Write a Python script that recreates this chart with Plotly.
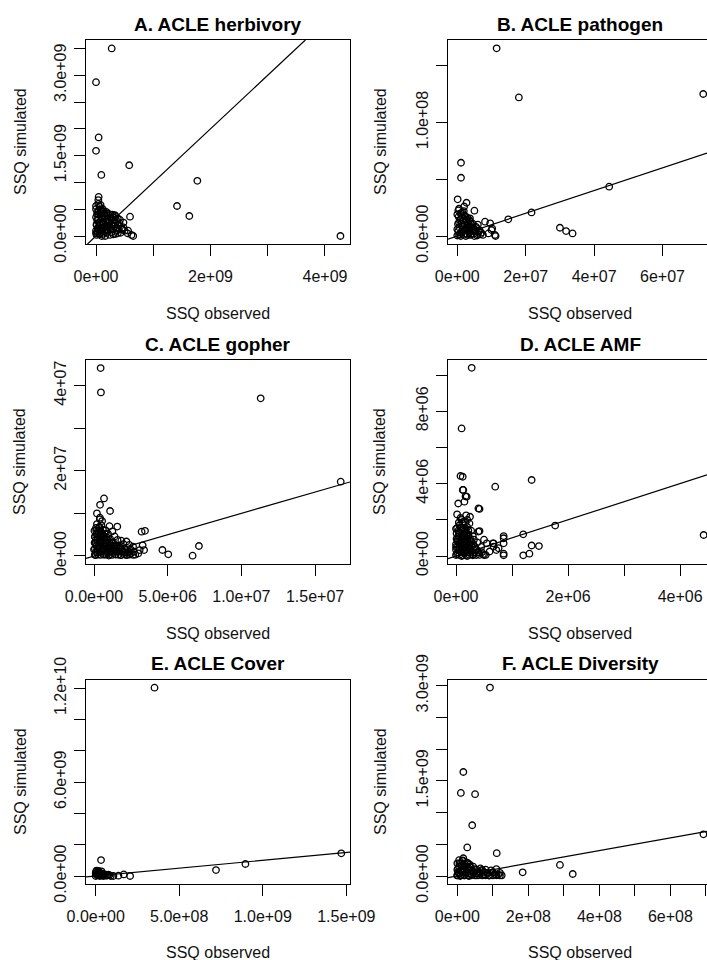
import plotly.graph_objects as go

# ---------------- data ----------------
A_x = [0.274e9, 0.0, 0.046e9, 0.0, 0.093e9, 0.58e9, 1.77e9, 1.415e9, 1.63e9, 4.27e9, 0.594e9, 0.046e9, 0.04e9, 0.65e9,
       0.01e9, 0.02e9, 0.0, 0.03e9, 0.01e9, 0.05e9, 0.02e9, 0.0, 0.04e9, 0.02e9, 0.08e9, 0.12e9, 0.06e9, 0.1e9, 0.15e9,
       0.2e9, 0.25e9, 0.3e9, 0.33e9, 0.35e9, 0.28e9, 0.22e9, 0.18e9, 0.12e9, 0.08e9, 0.14e9, 0.2e9, 0.26e9, 0.32e9, 0.4e9,
       0.45e9, 0.5e9, 0.55e9, 0.62e9, 0.38e9, 0.3e9, 0.24e9, 0.16e9, 0.1e9, 0.06e9, 0.04e9, 0.0, 0.1e9, 0.16e9, 0.42e9,
       0.36e9, 0.48e9, 0.07e9, 0.13e9, 0.03e9, 0.07e9, 0.09e9, 0.15e9, 0.26e9, 0.34e9, 0.33e9, 0.48e9, 0.56e9,
       0.0, 0.07e9, 0.12e9, 0.19e9, 0.27e9, 0.34e9, 0.43e9, 0.03e9, 0.1e9, 0.17e9, 0.24e9, 0.3e9, 0.38e9, 0.46e9,
       0.01e9, 0.06e9, 0.13e9, 0.2e9, 0.27e9, 0.34e9, 0.41e9, 0.04e9, 0.11e9, 0.17e9, 0.23e9, 0.31e9, 0.38e9,
       0.02e9, 0.09e9, 0.15e9, 0.21e9, 0.29e9, 0.05e9, 0.12e9, 0.18e9, 0.0, 0.08e9]
A_y = [3.50e9, 2.87e9, 1.84e9, 1.59e9, 1.14e9, 1.32e9, 1.03e9, 0.56e9, 0.373e9, 0.0, 0.36e9, 0.73e9, 0.67e9, 0.0,
       0.02e9, 0.05e9, 0.1e9, 0.15e9, 0.2e9, 0.25e9, 0.3e9, 0.35e9, 0.4e9, 0.45e9, 0.48e9, 0.5e9, 0.55e9, 0.45e9, 0.42e9,
       0.38e9, 0.4e9, 0.35e9, 0.39e9, 0.3e9, 0.25e9, 0.2e9, 0.3e9, 0.25e9, 0.1e9, 0.08e9, 0.1e9, 0.12e9, 0.18e9, 0.2e9,
       0.14e9, 0.1e9, 0.05e9, 0.02e9, 0.05e9, 0.03e9, 0.02e9, 0.0, 0.0, 0.03e9, 0.6e9, 0.5e9, 0.35e9, 0.18e9, 0.3e9,
       0.1e9, 0.25e9, 0.2e9, 0.15e9, 0.08e9, 0.43e9, 0.49e9, 0.37e9, 0.34e9, 0.37e9, 0.25e9, 0.16e9, 0.1e9,
       0.05e9, 0.06e9, 0.04e9, 0.06e9, 0.07e9, 0.04e9, 0.06e9, 0.13e9, 0.15e9, 0.13e9, 0.15e9, 0.13e9, 0.14e9, 0.12e9,
       0.22e9, 0.24e9, 0.22e9, 0.24e9, 0.22e9, 0.23e9, 0.24e9, 0.31e9, 0.32e9, 0.33e9, 0.3e9, 0.31e9, 0.33e9,
       0.4e9, 0.41e9, 0.38e9, 0.42e9, 0.4e9, 0.48e9, 0.47e9, 0.45e9, 0.56e9, 0.58e9]

B_x = [1.15e7, 1.80e7, 7.19e7, 0.108e7, 0.108e7, 0.01e7, 0.27e7, 0.50e7, 4.44e7, 2.17e7, 1.49e7, 0.81e7, 1.02e7, 1.12e7,
       0.91e7, 3.0e7, 3.18e7, 3.37e7, 0.37e7, 0.96e7, 1.0e7, 1.1e7,
       0.05e7, 0.1e7, 0.0, 0.15e7, 0.05e7, 0.1e7, 0.2e7, 0.15e7, 0.05e7, 0.25e7, 0.3e7, 0.35e7, 0.4e7, 0.5e7, 0.55e7,
       0.6e7, 0.65e7, 0.45e7, 0.3e7, 0.2e7, 0.1e7, 0.25e7, 0.4e7, 0.7e7, 0.5e7, 0.2e7, 0.3e7, 0.0, 0.12e7, 0.38e7,
       0.75e7, 0.6e7,
       0.0, 0.08e7, 0.18e7, 0.28e7, 0.38e7, 0.48e7, 0.58e7, 0.68e7, 0.03e7, 0.13e7, 0.23e7, 0.33e7, 0.43e7, 0.53e7,
       0.63e7, 0.06e7, 0.16e7, 0.26e7, 0.36e7, 0.46e7, 0.56e7, 0.02e7, 0.12e7, 0.22e7, 0.32e7, 0.42e7, 0.07e7,
       0.17e7, 0.27e7, 0.35e7, 0.04e7, 0.14e7, 0.24e7, 0.09e7, 0.19e7, 0.03e7]
B_y = [16.52e7, 12.2e7, 12.5e7, 6.45e7, 5.13e7, 3.23e7, 2.93e7, 2.23e7, 4.34e7, 2.08e7, 1.47e7, 1.26e7, 0.67e7, 0.0,
       0.23e7, 0.73e7, 0.44e7, 0.23e7, 1.56e7, 1.12e7, 0.53e7, 0.09e7,
       0.1e7, 0.3e7, 0.6e7, 0.9e7, 1.2e7, 1.5e7, 1.8e7, 2.1e7, 2.4e7, 1.3e7, 0.9e7, 0.5e7, 0.2e7, 0.4e7, 0.8e7,
       0.15e7, 0.5e7, 1.1e7, 0.1e7, 0.5e7, 0.0, 0.0, 0.7e7, 0.3e7, 0.0, 2.6e7, 1.6e7, 1.9e7, 2.0e7, 1.25e7,
       0.1e7, 1.0e7,
       0.05e7, 0.15e7, 0.1e7, 0.2e7, 0.1e7, 0.2e7, 0.05e7, 0.15e7, 0.45e7, 0.4e7, 0.5e7, 0.35e7, 0.45e7, 0.55e7,
       0.4e7, 0.75e7, 0.8e7, 0.7e7, 0.85e7, 0.75e7, 0.7e7, 1.05e7, 1.1e7, 1.0e7, 1.15e7, 1.0e7, 1.4e7,
       1.35e7, 1.45e7, 1.4e7, 1.7e7, 1.65e7, 1.75e7, 2.0e7, 2.2e7, 2.25e7]

C_x = [0.45e6, 0.47e6, 11.31e6, 16.74e6, 0.68e6, 0.41e6, 1.09e6, 0.4e6, 1.58e6, 3.23e6, 3.46e6, 4.64e6, 5.04e6, 6.69e6,
       7.12e6, 3.3e6, 3.4e6, 2.2e6, 2.65e6, 3.1e6, 2.5e6,
       0.1e6, 0.2e6, 0.0, 0.3e6, 0.1e6, 0.25e6, 0.05e6, 0.3e6, 0.15e6, 0.35e6, 0.2e6, 0.5e6, 0.6e6, 0.45e6, 0.7e6,
       0.55e6, 0.8e6, 0.65e6, 0.9e6, 0.75e6, 1.0e6, 1.1e6, 1.2e6, 1.0e6, 1.3e6, 1.1e6, 0.95e6, 1.25e6, 1.4e6, 1.5e6,
       1.6e6, 1.45e6, 1.8e6, 1.9e6, 1.75e6, 2.0e6, 1.85e6, 2.1e6, 2.3e6, 2.2e6, 2.5e6, 2.7e6, 2.8e6, 3.0e6, 2.4e6,
       1.6e6, 0.8e6, 0.4e6, 0.55e6, 1.05e6, 0.2e6,
       0.05e6, 0.27e6, 0.44e6, 0.66e6, 0.83e6, 1.07e6, 1.24e6, 1.47e6, 1.63e6, 1.86e6, 2.04e6, 2.27e6, 2.43e6, 2.66e6,
       0.14e6, 0.36e6, 0.53e6, 0.77e6, 0.94e6, 1.16e6, 1.33e6, 1.56e6, 1.74e6, 1.97e6, 2.13e6, 2.36e6,
       0.06e6, 0.24e6, 0.47e6, 0.63e6, 0.86e6, 1.04e6, 1.27e6, 1.43e6, 1.66e6, 1.84e6, 2.07e6,
       0.16e6, 0.33e6, 0.57e6, 0.74e6, 0.97e6, 1.13e6, 1.37e6, 1.53e6, 1.76e6,
       0.04e6, 0.26e6, 0.43e6, 0.67e6, 0.84e6, 1.06e6, 1.23e6,
       0.13e6, 0.37e6, 0.54e6, 0.76e6, 0.93e6, 0.07e6, 0.23e6, 0.46e6, 0.64e6, 0.87e6,
       0.17e6, 0.34e6, 0.56e6, 0.73e6, 0.03e6, 0.27e6, 0.44e6, 0.14e6, 0.36e6]
C_y = [44.1e6, 38.4e6, 37.0e6, 17.45e6, 13.5e6, 12.0e6, 10.56e6, 8.6e6, 6.9e6, 5.7e6, 5.9e6, 1.41e6, 0.39e6, 0.08e6,
       2.35e6, 2.5e6, 1.4e6, 3.4e6, 2.2e6, 1.4e6, 0.6e6,
       0.2e6, 0.8e6, 1.5e6, 2.2e6, 3.0e6, 3.8e6, 4.5e6, 5.3e6, 6.0e6, 6.8e6, 7.5e6, 7.2e6, 6.2e6, 5.0e6, 4.3e6,
       3.5e6, 2.8e6, 1.8e6, 1.0e6, 0.3e6, 0.1e6, 0.8e6, 1.7e6, 2.5e6, 3.2e6, 4.0e6, 5.2e6, 5.8e6, 4.6e6, 2.4e6,
       1.2e6, 0.4e6, 0.2e6, 1.0e6, 2.0e6, 2.8e6, 3.6e6, 1.6e6, 0.8e6, 0.2e6, 1.5e6, 1.0e6, 0.3e6, 0.6e6, 2.6e6,
       3.8e6, 6.0e6, 9.0e6, 8.2e6, 7.0e6, 10.0e6,
       0.3e6, 0.35e6, 0.25e6, 0.3e6, 0.4e6, 0.3e6, 0.25e6, 0.35e6, 0.3e6, 0.25e6, 0.4e6, 0.3e6, 0.35e6, 0.25e6,
       1.0e6, 0.95e6, 1.05e6, 1.0e6, 0.9e6, 1.05e6, 1.0e6, 0.95e6, 1.1e6, 1.0e6, 0.9e6, 1.0e6,
       1.7e6, 1.75e6, 1.65e6, 1.7e6, 1.8e6, 1.7e6, 1.65e6, 1.75e6, 1.7e6, 1.6e6, 1.75e6,
       2.4e6, 2.35e6, 2.45e6, 2.4e6, 2.3e6, 2.45e6, 2.4e6, 2.35e6, 2.5e6,
       3.1e6, 3.15e6, 3.05e6, 3.1e6, 3.2e6, 3.1e6, 3.05e6,
       3.8e6, 3.75e6, 3.85e6, 3.8e6, 3.7e6, 4.5e6, 4.55e6, 4.45e6, 4.5e6, 4.4e6,
       5.2e6, 5.25e6, 5.15e6, 5.2e6, 5.9e6, 5.85e6, 5.95e6, 6.6e6, 6.65e6]

D_x = [0.28e6, 0.10e6, 0.08e6, 0.12e6, 1.35e6, 0.70e6, 0.12e6, 0.17e6, 0.15e6, 0.04e6, 0.42e6, 0.42e6, 1.77e6, 1.20e6,
       0.85e6, 0.66e6, 0.72e6, 0.85e6, 1.35e6, 1.48e6, 1.2e6, 1.31e6, 4.42e6, 0.40e6, 0.40e6, 0.25e6, 0.19e6, 0.13e6,
       0.55e6, 0.67e6, 0.67e6, 0.76e6, 0.85e6, 0.85e6, 0.53e6, 0.85e6,
       0.02e6, 0.05e6, 0.0, 0.08e6, 0.03e6, 0.1e6, 0.05e6, 0.12e6, 0.06e6, 0.14e6, 0.08e6, 0.18e6, 0.2e6, 0.22e6,
       0.18e6, 0.25e6, 0.15e6, 0.3e6, 0.28e6, 0.32e6, 0.35e6, 0.4e6, 0.45e6, 0.38e6, 0.48e6, 0.2e6, 0.1e6, 0.16e6,
       0.24e6, 0.1e6, 0.0, 0.02e6, 0.2e6, 0.27e6, 0.12e6, 0.6e6, 0.5e6, 0.3e6,
       0.0, 0.06e6, 0.12e6, 0.18e6, 0.24e6, 0.3e6, 0.36e6, 0.42e6, 0.5e6,
       0.03e6, 0.09e6, 0.15e6, 0.21e6, 0.27e6, 0.33e6, 0.39e6, 0.46e6,
       0.0, 0.06e6, 0.12e6, 0.18e6, 0.24e6, 0.31e6, 0.37e6,
       0.03e6, 0.09e6, 0.15e6, 0.21e6, 0.27e6, 0.34e6,
       0.0, 0.06e6, 0.12e6, 0.18e6, 0.24e6, 0.31e6,
       0.03e6, 0.09e6, 0.15e6, 0.21e6, 0.27e6,
       0.01e6, 0.07e6, 0.13e6, 0.19e6, 0.25e6,
       0.04e6, 0.1e6, 0.16e6, 0.22e6, 0.01e6, 0.07e6, 0.13e6, 0.19e6,
       0.04e6, 0.1e6, 0.16e6, 0.22e6, 0.02e6, 0.08e6, 0.14e6, 0.05e6, 0.11e6, 0.17e6]
D_y = [10.4e6, 7.05e6, 4.42e6, 4.38e6, 4.2e6, 3.83e6, 3.65e6, 3.3e6, 3.0e6, 2.9e6, 2.6e6, 1.38e6, 1.68e6, 1.2e6,
       1.1e6, 0.7e6, 0.33e6, 0.04e6, 0.58e6, 0.55e6, 0.04e6, 0.13e6, 1.16e6, 2.63e6, 1.35e6, 2.17e6, 3.28e6, 3.65e6,
       0.70e6, 0.70e6, 0.52e6, 0.43e6, 0.98e6, 0.7e6, 0.06e6, 0.13e6,
       0.1e6, 0.3e6, 0.5e6, 0.7e6, 0.9e6, 1.1e6, 1.3e6, 1.5e6, 1.7e6, 1.9e6, 2.1e6, 2.25e6, 1.6e6, 1.2e6,
       0.8e6, 0.4e6, 0.2e6, 0.1e6, 0.6e6, 0.9e6, 0.35e6, 0.2e6, 0.5e6, 0.75e6, 0.1e6, 0.0, 0.0, 1.0e6,
       1.8e6, 2.0e6, 1.5e6, 2.3e6, 2.0e6, 1.4e6, 0.4e6, 0.25e6, 0.9e6, 1.1e6,
       0.05e6, 0.06e6, 0.04e6, 0.05e6, 0.06e6, 0.04e6, 0.05e6, 0.06e6, 0.05e6,
       0.2e6, 0.21e6, 0.19e6, 0.2e6, 0.22e6, 0.2e6, 0.19e6, 0.21e6,
       0.35e6, 0.36e6, 0.34e6, 0.35e6, 0.37e6, 0.35e6, 0.34e6,
       0.5e6, 0.51e6, 0.49e6, 0.5e6, 0.52e6, 0.5e6,
       0.65e6, 0.66e6, 0.64e6, 0.65e6, 0.67e6, 0.65e6,
       0.8e6, 0.81e6, 0.79e6, 0.8e6, 0.82e6,
       0.95e6, 0.96e6, 0.94e6, 0.95e6, 0.97e6,
       1.1e6, 1.12e6, 1.09e6, 1.11e6, 1.25e6, 1.26e6, 1.24e6, 1.27e6,
       1.4e6, 1.42e6, 1.39e6, 1.41e6, 1.55e6, 1.56e6, 1.54e6, 1.85e6, 1.86e6, 1.84e6]

E_x = [3.52e8, 0.32e8, 14.7e8, 8.96e8, 7.2e8, 2.06e8, 1.68e8, 1.06e8, 1.36e8,
       0.0, 0.1e8, 0.2e8, 0.05e8, 0.3e8, 0.15e8, 0.25e8, 0.4e8, 0.5e8, 0.0, 0.35e8, 0.6e8, 0.75e8, 0.9e8, 0.05e8, 0.45e8,
       0.12e8, 0.22e8, 0.08e8, 0.28e8, 0.18e8, 0.02e8, 0.38e8, 0.55e8, 0.68e8, 0.82e8]
E_y = [12.04e9, 1.02e9, 1.45e9, 0.77e9, 0.38e9, 0.0, 0.1e9, 0.0, 0.02e9,
       0.0, 0.1e9, 0.25e9, 0.35e9, 0.05e9, 0.2e9, 0.0, 0.15e9, 0.05e9, 0.18e9, 0.3e9, 0.02e9, 0.08e9, 0.0, 0.08e9, 0.0,
       0.05e9, 0.12e9, 0.22e9, 0.18e9, 0.32e9, 0.28e9, 0.06e9, 0.1e9, 0.03e9, 0.06e9]

F_x = [0.92e8, 0.17e8, 0.10e8, 0.50e8, 0.42e8, 0.28e8, 1.11e8, 0.17e8, 6.93e8, 2.89e8, 1.84e8, 3.25e8, 1.15e8, 1.0e8,
       0.8e8, 0.61e8,
       0.0, 0.05e8, 0.1e8, 0.02e8, 0.12e8, 0.06e8, 0.15e8, 0.2e8, 0.25e8, 0.3e8, 0.22e8, 0.35e8, 0.4e8, 0.45e8, 0.5e8,
       0.55e8, 0.6e8, 0.7e8, 0.75e8, 0.85e8, 0.9e8, 1.05e8, 1.2e8, 1.25e8, 0.38e8, 0.28e8, 0.08e8, 0.33e8, 0.65e8,
       0.95e8, 1.1e8, 0.18e8, 0.02e8,
       0.0, 0.1e8, 0.2e8, 0.3e8, 0.4e8, 0.5e8, 0.6e8, 0.7e8, 0.8e8, 0.9e8, 1.0e8, 1.1e8, 1.2e8,
       0.05e8, 0.15e8, 0.25e8, 0.35e8, 0.45e8, 0.55e8, 0.65e8, 0.75e8, 0.85e8, 1.0e8,
       0.0, 0.1e8, 0.2e8, 0.3e8, 0.4e8, 0.55e8, 0.7e8, 0.05e8, 0.15e8, 0.25e8, 0.35e8, 0.45e8,
       0.0, 0.1e8, 0.2e8, 0.3e8, 0.05e8, 0.15e8]
F_y = [29.7e8, 16.4e8, 13.1e8, 12.9e8, 8.0e8, 4.5e8, 3.6e8, 2.8e8, 6.57e8, 1.74e8, 0.58e8, 0.32e8, 0.2e8, 0.6e8,
       1.0e8, 0.6e8,
       0.1e8, 0.4e8, 0.8e8, 1.2e8, 1.6e8, 2.0e8, 2.4e8, 0.2e8, 0.6e8, 1.0e8, 1.4e8, 1.8e8, 0.3e8, 0.7e8, 1.1e8,
       0.1e8, 0.4e8, 0.8e8, 0.2e8, 0.5e8, 0.1e8, 0.3e8, 0.5e8, 0.1e8, 1.3e8, 2.1e8, 0.0, 0.0, 1.2e8,
       0.9e8, 1.1e8, 1.0e8, 0.6e8,
       0.1e8, 0.12e8, 0.08e8, 0.1e8, 0.12e8, 0.09e8, 0.11e8, 0.1e8, 0.12e8, 0.08e8, 0.1e8, 0.11e8, 0.09e8,
       0.5e8, 0.52e8, 0.48e8, 0.5e8, 0.53e8, 0.47e8, 0.5e8, 0.52e8, 0.49e8, 0.51e8,
       1.0e8, 1.02e8, 0.98e8, 1.03e8, 0.97e8, 1.0e8, 0.98e8, 1.5e8, 1.52e8, 1.48e8, 1.5e8, 1.47e8,
       2.0e8, 2.02e8, 1.98e8, 2.0e8, 2.5e8, 2.48e8]

titles = ["A. ACLE herbivory", "B. ACLE pathogen", "C. ACLE gopher",
          "D. ACLE AMF", "E. ACLE Cover", "F. ACLE Diversity"]

x_tickvals = [[0, 1e9, 2e9, 3e9, 4e9], [0, 2e7, 4e7, 6e7], [0, 5e6, 1e7, 1.5e7],
              [0, 1e6, 2e6, 3e6, 4e6], [0, 5e8, 1e9, 1.5e9], [0, 1e8, 2e8, 3e8, 4e8, 5e8, 6e8, 7e8]]
x_ticktext = [["0e+00", "", "2e+09", "", "4e+09"], ["0e+00", "2e+07", "4e+07", "6e+07"],
              ["0.0e+00", "5.0e+06", "1.0e+07", "1.5e+07"], ["0e+00", "", "2e+06", "", "4e+06"],
              ["0.0e+00", "5.0e+08", "1.0e+09", "1.5e+09"],
              ["0e+00", "", "2e+08", "", "4e+08", "", "6e+08", ""]]
y_tickvals = [[0, 0.5e9, 1e9, 1.5e9, 2e9, 2.5e9, 3e9, 3.5e9], [0, 5e7, 1e8, 1.5e8], [0, 1e7, 2e7, 3e7, 4e7],
              [0, 2e6, 4e6, 6e6, 8e6, 1e7], [0, 2e9, 4e9, 6e9, 8e9, 1e10, 1.2e10],
              [0, 5e8, 1e9, 1.5e9, 2e9, 2.5e9, 3e9]]
y_ticktext = [["0.0e+00", "", "", "1.5e+09", "", "", "3.0e+09", ""], ["0.0e+00", "", "1.0e+08", ""],
              ["0e+00", "", "2e+07", "", "4e+07"], ["0e+00", "", "4e+06", "", "8e+06", ""],
              ["0.0e+00", "", "", "6.0e+09", "", "", "1.2e+10"],
              ["0.0e+00", "", "", "1.5e+09", "", "", "3.0e+09"]]

# ---------------- layout constants ----------------
W, H = 707, 960
x_ranges = [[-0.175e9, 4.437e9], [-0.272e7, 7.30e7], [-0.543e6, 17.37e6],
            [-0.143e6, 4.48e6], [-0.58e8, 15.22e8], [-0.262e8, 7.03e8]]
y_ranges = [[-0.149e9, 3.657e9], [-0.70e7, 17.25e7], [-1.88e6, 46.0e6],
            [-0.442e6, 10.83e6], [-0.51e9, 12.53e9], [-1.26e8, 30.9e8]]
col_px = [(86, 350), (448, 707)]
col_center = [218, 580]
ylab_x = [20, 380]
row_px = [(40, 244), (360, 564), (680, 884)]
title_y = [24, 344, 663]
xlab_y = [313, 633, 952]

FONT = "Liberation Sans, Arial, Helvetica, sans-serif"
INK = "#111111"

series = [(A_x, A_y), (B_x, B_y), (C_x, C_y), (D_x, D_y), (E_x, E_y), (F_x, F_y)]

fig = go.Figure()
annotations = []
for i, (xs, ys) in enumerate(series):
    row, col = divmod(i, 2)
    n = "" if i == 0 else str(i + 1)
    xa, ya = "x" + n, "y" + n
    fig.add_trace(go.Scatter(x=xs, y=ys, mode="markers", xaxis=xa, yaxis=ya,
                             marker=dict(symbol="circle-open", size=6.5, color="black",
                                         line=dict(width=1.3, color="black")),
                             showlegend=False, hoverinfo="x+y"))
    # 1:1 reference line across the visible plotting region
    lo = max(x_ranges[i][0], y_ranges[i][0])
    hi = min(x_ranges[i][1], y_ranges[i][1])
    fig.add_trace(go.Scatter(x=[lo, hi], y=[lo, hi], mode="lines", xaxis=xa, yaxis=ya,
                             line=dict(color="black", width=1.2), showlegend=False, hoverinfo="skip"))
    x0, x1 = col_px[col]
    y0, y1 = row_px[row]
    axcommon = dict(showgrid=False, zeroline=False, showline=True, mirror=True, linecolor="black",
                    linewidth=1, ticks="outside", ticklen=11, tickwidth=1, tickcolor="black",
                    tickfont=dict(family=FONT, size=16, color=INK), tickmode="array", automargin=False)
    fig.layout["xaxis" + n] = dict(axcommon, domain=[x0 / W, x1 / W], range=x_ranges[i], anchor=ya,
                                   tickvals=x_tickvals[i], ticktext=x_ticktext[i], ticklabelstandoff=7)
    fig.layout["yaxis" + n] = dict(axcommon, domain=[1 - y1 / H, 1 - y0 / H], range=y_ranges[i], anchor=xa,
                                   tickvals=y_tickvals[i], ticktext=y_ticktext[i], tickangle=-90,
                                   ticklabelstandoff=2)
    annotations.append(dict(text="<b>%s</b>" % titles[i], x=col_center[col] / W, y=1 - title_y[row] / H,
                            xref="paper", yref="paper", showarrow=False, xanchor="center", yanchor="middle",
                            font=dict(family=FONT, size=19, color="black")))
    annotations.append(dict(text="SSQ observed", x=col_center[col] / W, y=1 - xlab_y[row] / H,
                            xref="paper", yref="paper", showarrow=False, xanchor="center", yanchor="middle",
                            font=dict(family=FONT, size=16, color=INK)))
    annotations.append(dict(text="SSQ simulated", x=ylab_x[col] / W, y=1 - (y0 + y1) / 2 / H,
                            xref="paper", yref="paper", showarrow=False, xanchor="center", yanchor="middle",
                            textangle=-90, font=dict(family=FONT, size=16, color=INK)))

fig.update_layout(width=W, height=H, margin=dict(l=0, r=0, t=0, b=0, pad=0, autoexpand=False),
                  paper_bgcolor="white", plot_bgcolor="white", annotations=annotations, showlegend=False)
fig.write_html("out.html")
